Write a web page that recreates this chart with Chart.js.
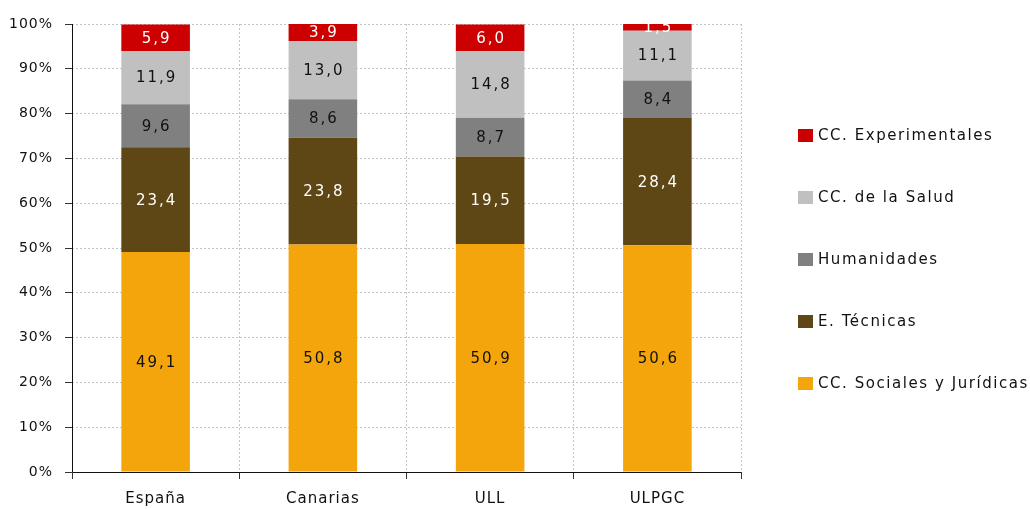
<!DOCTYPE html>
<html>
<head>
<meta charset="utf-8">
<script src="https://cdn.jsdelivr.net/npm/chart.js@4.4.1/dist/chart.umd.min.js"></script>
<style>
  body { margin: 0; background: #fff; }
  #wrap { position: relative; width: 1030px; height: 509px; }
  #legend { position: absolute; left: 798px; top: 0; font-family: "DejaVu Sans", sans-serif; font-size: 15px; color: #111; letter-spacing: 1.55px; }
  .item { position: absolute; white-space: nowrap; display: flex; align-items: center; }
  .box { width: 15px; height: 13px; margin-right: 5px; }
</style>
</head>
<body>
<div id="wrap">
  <canvas id="myChart" width="1030" height="509"></canvas>
  <div id="legend"></div>
</div>
<script>
const categories = ["España", "Canarias", "ULL", "ULPGC"];
const sociales = [49.1, 50.8, 50.9, 50.6];
const tecnicas = [23.4, 23.8, 19.5, 28.4];
const humanidades = [9.6, 8.6, 8.7, 8.4];
const salud = [11.9, 13.0, 14.8, 11.1];
const experimentales = [5.9, 3.9, 6.0, 1.5];

const seriesNames = ["CC. Sociales y Jurídicas", "E. Técnicas", "Humanidades", "CC. de la Salud", "CC. Experimentales"];
const seriesColors = ["#F5A50C", "#5E4715", "#808080", "#C0C0C0", "#CC0000"];
const labelColors = ["#111", "#fff", "#111", "#111", "#fff"];

const fmt = (v) => v.toFixed(1).replace(".", ",");

// slightly wider text for the axis labels
const spacing = {
  id: "spacing",
  beforeDraw(chart) { chart.ctx.letterSpacing = "1px"; }
};

// labels inside each bar segment, clipped to the plot area
const barLabels = {
  id: "barLabels",
  afterDatasetsDraw(chart) {
    const ctx = chart.ctx;
    const area = chart.chartArea;
    ctx.save();
    ctx.beginPath();
    ctx.rect(area.left, area.top, area.right - area.left, area.bottom - area.top);
    ctx.clip();
    ctx.font = "15px 'DejaVu Sans', sans-serif";
    ctx.letterSpacing = "2px";
    ctx.textAlign = "center";
    ctx.textBaseline = "middle";
    chart.data.datasets.forEach((ds, i) => {
      const meta = chart.getDatasetMeta(i);
      meta.data.forEach((bar, j) => {
        const mid = (bar.y + bar.base) / 2;
        ctx.fillStyle = labelColors[i];
        ctx.fillText(fmt(ds.data[j]), bar.x + 1, mid + 1);
      });
    });
    ctx.restore();
  }
};

// solid axis lines on top of the dotted grid
const axisLines = {
  id: "axisLines",
  afterDatasetsDraw(chart) {
    const ctx = chart.ctx;
    const a = chart.chartArea;
    ctx.save();
    ctx.strokeStyle = "#111";
    ctx.lineWidth = 1;
    ctx.beginPath();
    ctx.moveTo(a.left + 0.5, a.top);
    ctx.lineTo(a.left + 0.5, a.bottom + 0.5);
    ctx.lineTo(a.right, a.bottom + 0.5);
    ctx.stroke();
    ctx.restore();
  }
};

const datasets = [sociales, tecnicas, humanidades, salud, experimentales].map((d, i) => ({
  label: seriesNames[i],
  data: d,
  backgroundColor: seriesColors[i],
  borderWidth: 0,
  barPercentage: 1,
  categoryPercentage: 0.41
}));

const ctx = document.getElementById("myChart");
const chart = new Chart(ctx, {
  type: "bar",
  data: { labels: categories, datasets: datasets },
  options: {
    responsive: false,
    animation: false,
    layout: { padding: { left: 0, right: 289, top: 24, bottom: 0 } },
    plugins: {
      legend: { display: false },
      tooltip: { enabled: false }
    },
    scales: {
      x: {
        stacked: true,
        afterFit(scale) { scale.height = 37; },
        grid: {
          offset: true,
          color: "#c4c4c4",
          tickLength: 7,
          tickColor: "#333",
          tickBorderDash: []
        },
        border: { display: false, dash: [2, 2] },
        ticks: { color: "#111", padding: 11, font: { family: "DejaVu Sans", size: 15 } }
      },
      y: {
        stacked: true,
        min: 0,
        max: 100,
        afterFit(scale) { scale.width = 72; },
        grid: {
          color: "#c4c4c4",
          tickLength: 7,
          tickColor: "#333",
          tickBorderDash: []
        },
        border: { display: false, dash: [2, 2] },
        ticks: {
          stepSize: 10,
          color: "#111",
          padding: 12,
          font: { family: "DejaVu Sans", size: 14 },
          callback: (v) => v + "%"
        }
      }
    }
  },
  plugins: [spacing, barLabels, axisLines]
});

// legend, top entry is the top segment
const legend = document.getElementById("legend");
const order = [4, 3, 2, 1, 0];
order.forEach((idx, k) => {
  const item = document.createElement("div");
  item.className = "item";
  item.style.top = (126 + k * 62) + "px";
  item.innerHTML = '<span class="box" style="background:' + seriesColors[idx] + '"></span>' + seriesNames[idx];
  legend.appendChild(item);
});
</script>
</body>
</html>
